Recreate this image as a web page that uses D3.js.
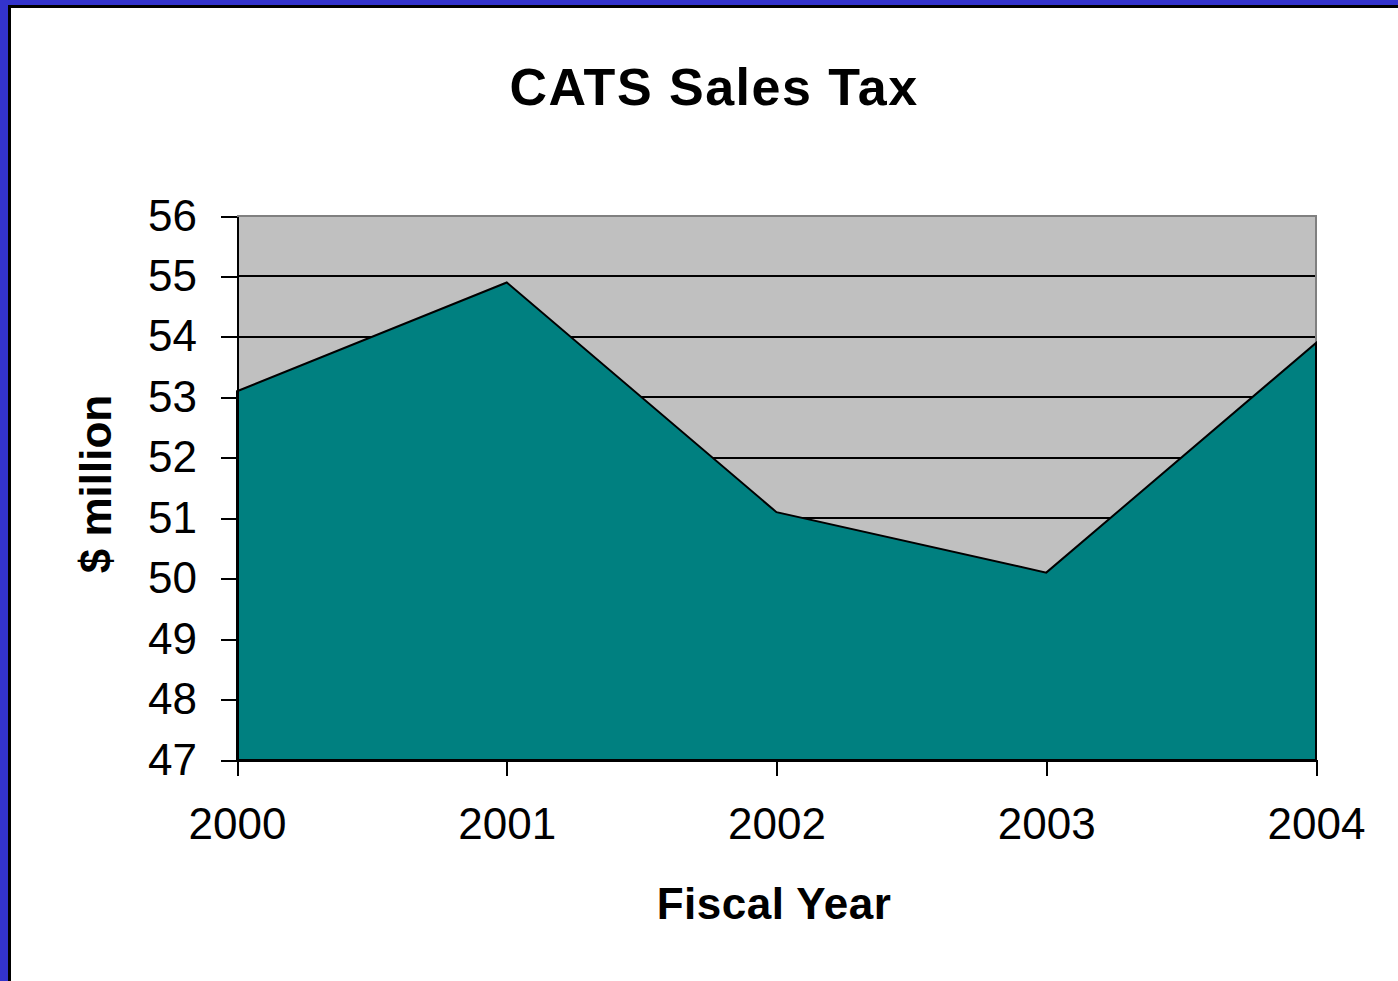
<!DOCTYPE html>
<html>
<head>
<meta charset="utf-8">
<script src="https://cdn.jsdelivr.net/npm/d3@7"></script>
<style>
  html, body { margin: 0; padding: 0; background: #fff; }
  svg { display: block; }
</style>
</head>
<body>
<svg id="chart" width="1398" height="981"></svg>
<script>
const years = [2000, 2001, 2002, 2003, 2004];
const salesTax = [53.1, 54.9, 51.1, 50.1, 53.9];
const yTicks = [47, 48, 49, 50, 51, 52, 53, 54, 55, 56];
const titleText = "CATS Sales Tax";
const xTitle = "Fiscal Year";
const yTitle = "$ million";

const svg = d3.select("#chart");
const W = 1398, H = 981;
const m = { left: 237, right: 1316, top: 216, bottom: 760 };
const font = "'Liberation Sans', Arial, sans-serif";

// frame
svg.append("rect").attr("x", 0).attr("y", 0).attr("width", W).attr("height", H).attr("fill", "#fff");
svg.append("rect").attr("x", 0).attr("y", 0).attr("width", W).attr("height", 5).attr("fill", "#3333CC");
svg.append("rect").attr("x", 0).attr("y", 0).attr("width", 8).attr("height", H).attr("fill", "#3333CC");
svg.append("rect").attr("x", 8).attr("y", 5).attr("width", W).attr("height", 3).attr("fill", "#000");
svg.append("rect").attr("x", 8).attr("y", 5).attr("width", 3).attr("height", H).attr("fill", "#000");

const x = d3.scaleLinear().domain([2000, 2004]).range([m.left, m.right]);
const y = d3.scaleLinear().domain([47, 56]).range([m.bottom, m.top]);

// plot background
svg.append("rect")
  .attr("x", m.left).attr("y", m.top)
  .attr("width", m.right - m.left).attr("height", m.bottom - m.top)
  .attr("fill", "#C0C0C0");

// gridlines
svg.append("g").selectAll("line")
  .data(yTicks.filter(d => d > 47 && d < 56))
  .join("line")
  .attr("x1", m.left).attr("x2", m.right)
  .attr("y1", d => Math.round(y(d))).attr("y2", d => Math.round(y(d)))
  .attr("stroke", "#000").attr("stroke-width", 2)
  .attr("shape-rendering", "crispEdges");

// plot border top/right (gray)
svg.append("path")
  .attr("d", `M${m.left},${m.top}H${m.right}V${m.bottom}`)
  .attr("fill", "none").attr("stroke", "#808080").attr("stroke-width", 2)
  .attr("shape-rendering", "crispEdges");

const data = years.map((yr, i) => ({ yr, v: salesTax[i] }));

// area
const area = d3.area().x(d => x(d.yr)).y0(y(47)).y1(d => y(d.v));
svg.append("path").datum(data)
  .attr("d", area)
  .attr("fill", "#008080")
  .attr("stroke", "#000").attr("stroke-width", 2).attr("stroke-linejoin", "miter");

// axes
const yAxis = d3.axisLeft(y).tickValues(yTicks).tickSize(16).tickSizeOuter(0).tickPadding(24);
const gy = svg.append("g").attr("transform", `translate(${m.left},0)`).call(yAxis);
const xAxis = d3.axisBottom(x).tickValues(years).tickFormat(d3.format("d")).tickSize(16).tickSizeOuter(0).tickPadding(32);
const gx = svg.append("g").attr("transform", `translate(0,${m.bottom})`).call(xAxis);

[gx, gy].forEach(g => {
  g.select(".domain").attr("stroke", "#000").attr("stroke-width", 2).attr("shape-rendering", "crispEdges");
  g.selectAll(".tick line").attr("stroke", "#000").attr("stroke-width", 2).attr("shape-rendering", "crispEdges");
  g.selectAll(".tick text")
    .attr("fill", "#000")
    .style("font-family", font)
    .style("font-size", "44px");
});

// titles
svg.append("text")
  .attr("x", 714).attr("y", 105)
  .attr("text-anchor", "middle")
  .style("font-family", font).style("font-weight", "bold").style("font-size", "52px")
  .style("letter-spacing", "1.5px")
  .attr("fill", "#000")
  .text(titleText);

svg.append("text")
  .attr("x", 774).attr("y", 919)
  .attr("text-anchor", "middle")
  .style("font-family", font).style("font-weight", "bold").style("font-size", "44px")
  .style("letter-spacing", "0.5px")
  .attr("fill", "#000")
  .text(xTitle);

svg.append("text")
  .attr("transform", "translate(111,484) rotate(-90)")
  .attr("text-anchor", "middle")
  .style("font-family", font).style("font-weight", "bold").style("font-size", "44px")
  .attr("fill", "#000")
  .text(yTitle);
</script>
</body>
</html>
